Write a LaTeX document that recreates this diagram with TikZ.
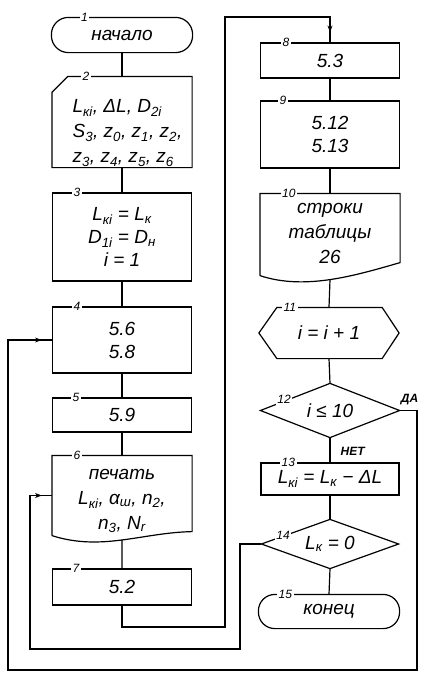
\documentclass[tikz,border=0pt]{standalone}
\usepackage{fontspec}
\setmainfont{Liberation Sans}
\usetikzlibrary{calc,arrows.meta,decorations.markings}
\newcommand\lsub[1]{\textsubscript{#1}}
\begin{document}
\begin{tikzpicture}[x=1pt,y=-1pt, line width=1.2pt,
  blk/.style={draw=none, minimum width=139pt, inner sep=0pt,
    font=\fontsize{19}{23}\selectfont\itshape, align=center},
  rbox/.style={blk, draw},
  txt/.style={font=\fontsize{19}{25}\selectfont\itshape, inner sep=0pt},
  num/.style={font=\fontsize{12}{12}\selectfont\itshape, fill=white, inner sep=1.5pt},
  lbl/.style={font=\fontsize{12}{12}\selectfont\bfseries\itshape, inner sep=0pt},
  midarrow/.style={postaction={decorate}, decoration={markings,
    mark=at position -10pt with {\arrow{Stealth[length=7pt,width=5pt]}}}},
]
\useasboundingbox (0,0) rectangle (430,680);

% ---- left column ----
\node[blk, minimum width=140pt, minimum height=34pt] (n1) at (122,35) {начало};
\draw[rounded corners=17pt] (n1.north west) rectangle (n1.south east);

\node[blk, minimum height=90pt] (n2) at (122,122) {};
\draw (n2.south west) -- ($(n2.north west)+(0,16)$) -- ($(n2.north west)+(16,0)$)
  -- (n2.north east) -- (n2.south east) -- cycle;
\node[txt, align=left, anchor=west] (t2) at (72,133)
  {L\lsub{кi}, ΔL, D\lsub{2i}\\S\lsub{3}, z\lsub{0}, z\lsub{1}, z\lsub{2},\\z\lsub{3}, z\lsub{4}, z\lsub{5}, z\lsub{6}};

\node[rbox, minimum height=88pt] (n3) at (122,237)
  {L\lsub{кi} = L\lsub{к}\\D\lsub{1i} = D\lsub{н}\\i = 1};
\node[rbox, minimum height=66pt] (n4) at (122,340) {5.6\\5.8};
\node[rbox, minimum height=34pt] (n5) at (122,415) {5.9};

\node[blk, minimum height=79pt] (n6) at (122,495.5) {};
\draw (n6.south west) -- (n6.north west) -- (n6.north east) -- ($(n6.south east)+(0,-4)$)
  .. controls ($(n6.south east)+(-50,-3)$) and ($(n6.south west)+(50,16)$) .. (n6.south west);
\path (n6.south west) .. controls ($(n6.south west)+(50,16)$) and ($(n6.south east)+(-50,-3)$)
  .. ($(n6.south east)+(0,-4)$) coordinate[pos=0.5] (n6b);
\node[txt, align=center] (t6) at (122,501)
  {печать\\L\lsub{кi}, α\lsub{ш}, n\lsub{2},\\n\lsub{3}, N\lsub{r}};

\node[rbox, minimum height=36pt] (n7) at (122,587) {5.2};

% ---- right column ----
\node[rbox, minimum height=35pt] (n8) at (330,60.5) {5.3};
\node[rbox, minimum height=67pt] (n9) at (330,134.5) {5.12\\5.13};

\node[blk, minimum height=81pt] (n10) at (330,234.5) {};
\draw (n10.south west) -- (n10.north west) -- (n10.north east) -- ($(n10.south east)+(0,-13)$)
  .. controls ($(n10.south east)+(-45,0)$) and ($(n10.south west)+(45,15)$) .. (n10.south west);
\path (n10.south west) .. controls ($(n10.south west)+(45,15)$) and ($(n10.south east)+(-45,0)$)
  .. ($(n10.south east)+(0,-13)$) coordinate[pos=0.5] (n10b);
\node[txt, align=center] (t10) at (330,233) {строки\\таблицы\\26};

\node[blk, minimum height=50pt] (n11) at (329,333) {i = i + 1};
\draw (n11.west) -- ($(n11.north west)+(18,0)$) -- ($(n11.north east)+(-17,0)$) -- (n11.east)
  -- ($(n11.south east)+(-17,0)$) -- ($(n11.south west)+(18,0)$) -- cycle;

\node[blk, minimum width=138pt, minimum height=53pt] (n12) at (330,410.5) {i ≤ 10};
\draw (n12.north) -- (n12.east) -- (n12.south) -- (n12.west) -- cycle;

\node[rbox, minimum width=138pt, minimum height=32pt] (n13) at (330,479)
  {L\lsub{кi} = L\lsub{к} − ΔL};

\node[blk, minimum width=136pt, minimum height=48pt] (n14) at (330,544) {L\lsub{к} = 0};
\draw (n14.north) -- (n14.east) -- (n14.south) -- (n14.west) -- cycle;

\node[blk, minimum width=140pt, minimum height=33pt] (n15) at (329,611.5) {конец};
\draw[rounded corners=16.5pt] (n15.north west) rectangle (n15.south east);

% ---- connectors ----
\draw (n1.south) -- (n2.north);
\draw (n2.south) -- (n3.north);
\draw (n3.south) -- (n4.north);
\draw (n4.south) -- (n5.north);
\draw (n5.south) -- (n6.north);
\draw (n6b) -- (n7.north);
\draw (n8.south) -- (n9.north);
\draw (n9.south) -- (n10.north);
\draw (n10b) -- (n11.north);
\draw (n11.south) -- (n12.north);
\draw (n12.south) -- node[lbl, anchor=west, pos=0.55, xshift=10pt] {НЕТ} (n13.north);
\draw (n13.south) -- (n14.north);
\draw (n14.south) -- (n15.north);

\coordinate (b7) at (225,627);
\coordinate (t8) at (225,17);
\draw[midarrow] (n7.south) |- (b7) -- (t8) -| (n8.north);

\coordinate (r1) at (417,670);
\coordinate (l1) at (8,670);
\draw[midarrow] (n12.east) -| (r1) -- (l1) |- (n4.west);
\node[lbl] at ($(n12.east)+(10,-11)$) {ДА};

\coordinate (r2) at (240,649);
\coordinate (l2) at (30,649);
\draw[midarrow] (n14.west) -| (r2) -- (l2) |- (n6.west);

% ---- block numbers ----
\node[num] at ($(n1.north west)+(33,0)$) {1};
\node[num] at ($(n2.north west)+(34,0)$) {2};
\node[num] at ($(n3.north west)+(25,0)$) {3};
\node[num] at ($(n4.north west)+(25,0)$) {4};
\node[num] at ($(n5.north west)+(24,0)$) {5};
\node[num] at ($(n6.north west)+(25,0)$) {6};
\node[num] at ($(n7.north west)+(24,0)$) {7};
\node[num] at ($(n8.north west)+(26,0)$) {8};
\node[num] at ($(n9.north west)+(23,0)$) {9};
\node[num] at ($(n10.north west)+(29,0)$) {10};
\node[num] at ($(n11.north west)+(31,0)$) {11};
\node[num] at (284,399) {12};
\node[num] at ($(n13.north west)+(28,0)$) {13};
\node[num] at (283,535) {14};
\node[num] at ($(n15.north west)+(27,0)$) {15};
\end{tikzpicture}
\end{document}
